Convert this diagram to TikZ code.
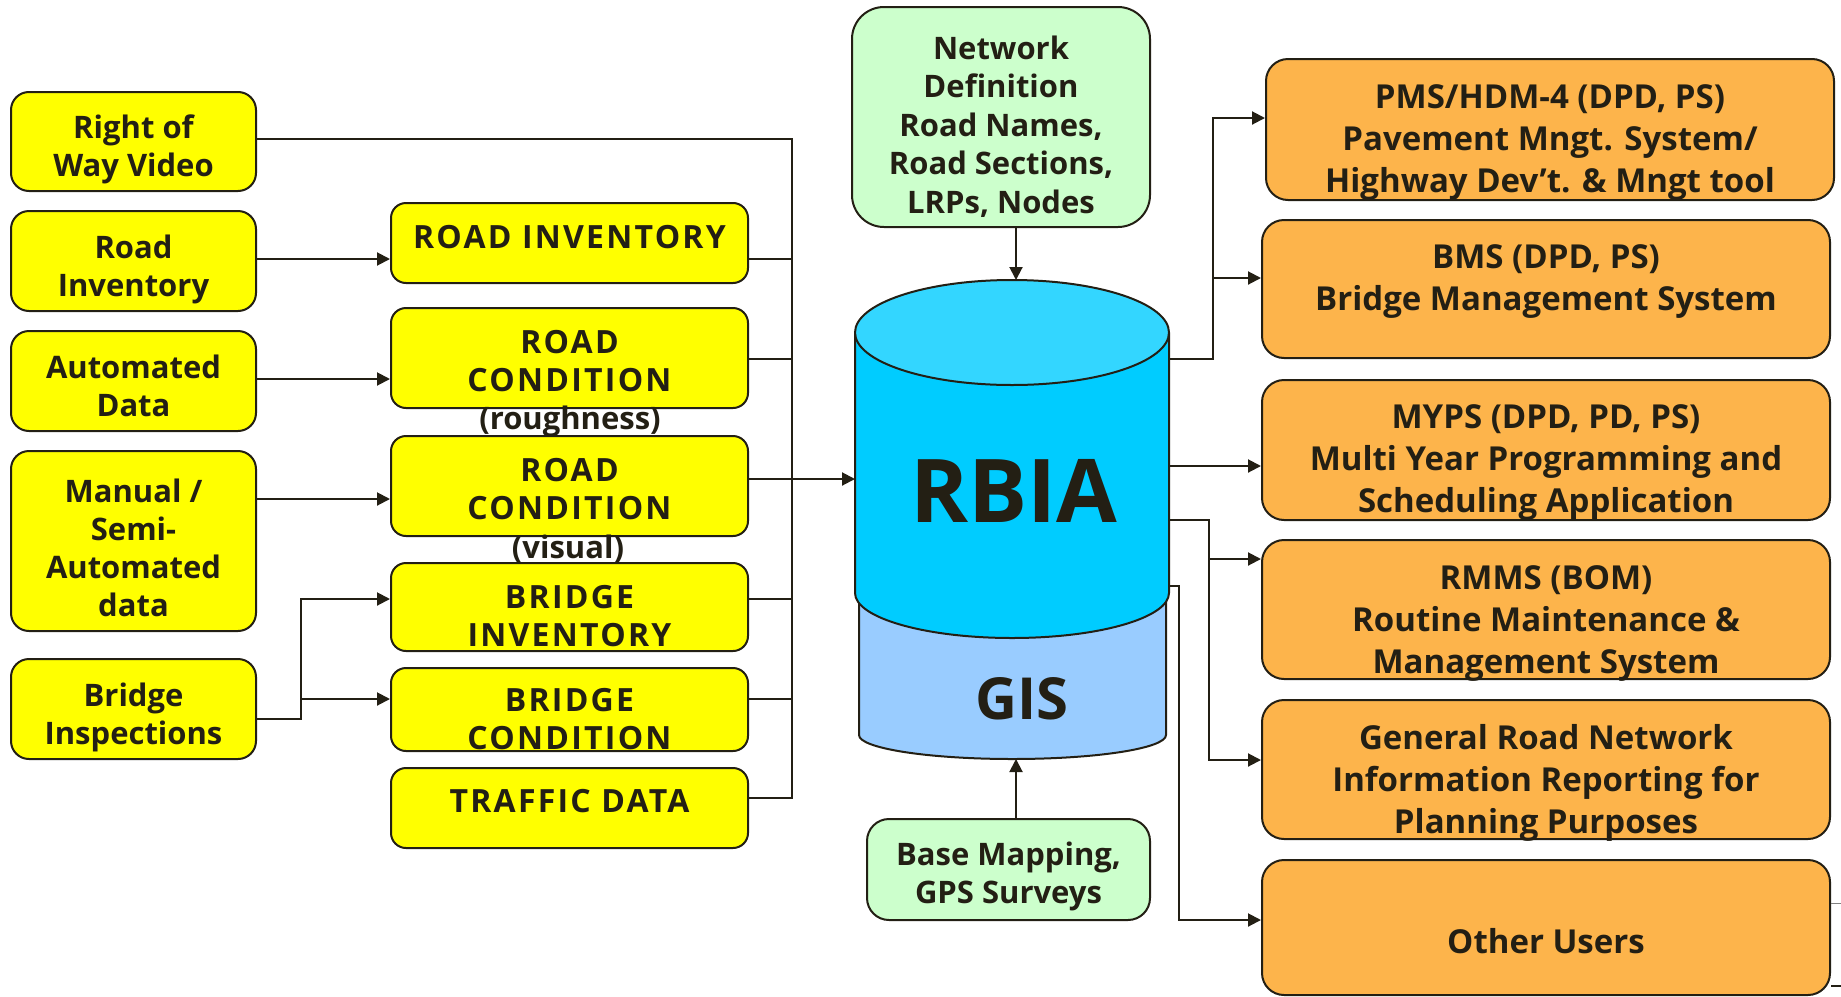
\documentclass[tikz,border=0pt]{standalone}
\usepackage{fontspec}
\setmainfont{Open Sans}
\usetikzlibrary{arrows.meta}
\definecolor{ink}{RGB}{35,31,20}
\definecolor{lemon}{RGB}{255,255,0}
\definecolor{peach}{RGB}{253,180,75}
\definecolor{mint}{RGB}{204,255,204}
\definecolor{sky}{RGB}{0,204,255}
\definecolor{skytop}{RGB}{51,214,255}
\definecolor{gisblue}{RGB}{153,204,255}
\tikzstyle{every node}=[text=ink, align=center, inner sep=2pt]
\tikzstyle{srcbox}=[draw=ink, line width=2pt, fill=lemon, rounded corners=18pt, minimum width=245pt]
\tikzstyle{srctext}=[font=\fontsize{31}{38}\selectfont\bfseries]
\tikzstyle{databox}=[draw=ink, line width=2pt, fill=lemon, rounded corners=15pt, minimum width=357pt]
\tikzstyle{datatext}=[font=\fontsize{32}{38}\selectfont\bfseries\addfontfeatures{LetterSpace=7}]
\tikzstyle{tag}=[font=\fontsize{31}{38}\selectfont\bfseries]
\tikzstyle{mapbox}=[draw=ink, line width=2pt, fill=mint, rounded corners=22pt]
\tikzstyle{maptext}=[font=\fontsize{31}{38.5}\selectfont\bfseries]
\tikzstyle{userbox}=[draw=ink, line width=2pt, fill=peach, rounded corners=22pt, minimum width=568pt]
\tikzstyle{usertext}=[font=\fontsize{33}{42}\selectfont\bfseries]
\tikzstyle{arr}=[-{Triangle[length=13pt,width=13pt]}]

\begin{document}
\begin{tikzpicture}[x=1pt, y=-1pt, line width=2pt, ink]
    \useasboundingbox (0,0) rectangle (1841,996);
% Field sources
    \node[srcbox, minimum height=99pt] (row) at (133.5,141.5) {};
    \node[srctext] (row-t) at (133.5,149) {Right of\\Way Video};
    \node[srcbox, minimum height=100pt] (rinvl) at (133.5,261) {};
    \node[srctext] (rinvl-t) at (133.5,269) {Road\\Inventory};
    \node[srcbox, minimum height=100pt] (auto) at (133.5,381) {};
    \node[srctext] (auto-t) at (133.5,386) {Automated\\Data};
    \node[srcbox, minimum height=180pt] (manual) at (133.5,541) {};
    \node[srctext] (manual-t) at (133.5,547.5) {Manual /\\Semi-\\Automated\\data};
    \node[srcbox, minimum height=100pt] (binsp) at (133.5,709) {};
    \node[srctext] (binsp-t) at (133.5,717) {Bridge\\Inspections};
% Data sets
    \node[databox, minimum height=80pt] (rinv) at (569.5,243) {};
    \node[datatext] (rinv-t) at (569.5,237) {ROAD INVENTORY};
    \node[databox, minimum height=100pt] (rcond) at (569.5,358) {};
    \node[datatext] (rcond-t) at (569.5,361.5) {ROAD\\CONDITION};
    \node[tag] (rough) at (570,421) {(roughness)};
    \node[databox, minimum height=100pt] (vcond) at (569.5,486) {};
    \node[datatext] (vcond-t) at (569.5,489.5) {ROAD\\CONDITION};
    \node[tag] (visual) at (568,549) {(visual)};
    \node[databox, minimum height=88pt] (binv) at (569.5,607) {};
    \node[datatext] (binv-t) at (569.5,616) {BRIDGE\\INVENTORY};
    \node[databox, minimum height=83pt] (bcond) at (569.5,709.5) {};
    \node[datatext] (bcond-t) at (569.5,719) {BRIDGE\\CONDITION};
    \node[databox, minimum height=80pt] (traffic) at (569.5,808) {};
    \node[datatext] (traffic-t) at (569.5,801) {TRAFFIC DATA};
% Network and base map
    \node[mapbox, minimum width=298pt, minimum height=220pt, rounded corners=32pt] (net) at (1001,117) {};
    \node[maptext] (net-t) at (1001,126.5) {Network\\Definition\\Road Names,\\Road Sections,\\LRPs, Nodes};
    \node[mapbox, minimum width=283pt, minimum height=101pt] (base) at (1008.5,869.5) {};
    \node[maptext] (base-t) at (1008.5,876.5) {Base Mapping,\\GPS Surveys};
% Database
    \filldraw[fill=gisblue] (859,560) -- (859,735) arc[start angle=180, end angle=360, x radius=153.5pt, y radius=24pt] -- (1166,560);
    \filldraw[fill=sky] (855,332.5) -- (855,593) arc[start angle=180, end angle=360, x radius=157pt, y radius=45pt] -- (1169,332.5);
    \filldraw[fill=skytop] (1012,332.5) ellipse [x radius=157pt, y radius=52.5pt];
    \node[font=\fontsize{88}{88}\selectfont\bfseries] (rbia) at (1014,491) {RBIA};
    \node[font=\fontsize{58}{58}\selectfont\bfseries] (gis) at (1022,699) {GIS};
    \coordinate (dbtop) at (1016,280);
    \coordinate (gisbot) at (1016,759);
    \coordinate (dbin) at (855,479);
    \coordinate (dbout1) at (1169,359);
    \coordinate (dbout2) at (1169,466);
    \coordinate (dbout3) at (1169,520);
    \coordinate (dbout4) at (1169,586);
% Users
    \node[userbox, minimum height=141pt] (pms) at (1550,129.5) {};
    \node[usertext] (pms-t) at (1550,143) {PMS/HDM-4 (DPD, PS)\\Pavement Mngt. System/\\Highway Dev't. \& Mngt tool};
    \node[userbox, minimum height=138pt] (bms) at (1546,289) {};
    \node[usertext] (bms-t) at (1546,282) {BMS (DPD, PS)\\Bridge Management System};
    \node[userbox, minimum height=140pt] (myps) at (1546,450) {};
    \node[usertext] (myps-t) at (1546,463) {MYPS (DPD, PD, PS)\\Multi Year Programming and\\Scheduling Application};
    \node[userbox, minimum height=139pt] (rmms) at (1546,609.5) {};
    \node[usertext] (rmms-t) at (1546,623) {RMMS (BOM)\\Routine Maintenance \&\\Management System};
    \node[userbox, minimum height=139pt] (gen) at (1546,769.5) {};
    \node[usertext] (gen-t) at (1546,783) {General Road Network\\Information Reporting for\\Planning Purposes};
    \node[userbox, minimum height=135pt] (other) at (1546,927.5) {};
    \node[usertext] (other-t) at (1546,941) {Other Users};
% Inputs
    \coordinate (busL) at (792,798);
    \coordinate (splitI) at (301,599);
    \draw[arr] (rinvl.east |- 0,259) -- (rinv.west |- 0,259);
    \draw[arr] (auto.east |- 0,379) -- (rcond.west |- 0,379);
    \draw[arr] (manual.east |- 0,499) -- (vcond.west |- 0,499);
    \draw[arr] (binsp.east |- 0,719) -| (splitI) -- (binv.west |- splitI);
    \draw[arr] (splitI |- 0,699) -- (bcond.west |- 0,699);
    \draw (row.east |- 0,139) -| (busL) -- (traffic.east |- busL);
    \draw (rinv.east |- 0,259) -- (busL |- 0,259);
    \draw (rcond.east |- 0,359) -- (busL |- 0,359);
    \draw (binv.east |- 0,599) -- (busL |- 0,599);
    \draw (bcond.east |- 0,699) -- (busL |- 0,699);
    \draw[arr] (vcond.east |- dbin) -- (dbin);
    \draw[arr] (net.south -| dbtop) -- (dbtop);
    \draw[arr] (base.north -| gisbot) -- (gisbot);
% Outputs
    \coordinate (splitA) at (1213,118);
    \coordinate (splitB) at (1209,760);
    \coordinate (splitC) at (1179,920);
    \draw[arr] (dbout1) -| (splitA) -- (pms.west |- splitA);
    \draw[arr] (splitA |- 0,278) -- (bms.west |- 0,278);
    \draw[arr] (dbout2) -- (myps.west |- dbout2);
    \draw[arr] (dbout3) -| (splitB) -- (gen.west |- splitB);
    \draw[arr] (splitB |- 0,559) -- (rmms.west |- 0,559);
    \draw[arr] (dbout4) -| (splitC) -- (other.west |- splitC);
    \draw[line width=1pt, gray] (other.east |- 0,903) -- (1841,903);
    \draw (other.east |- 0,986) -- (1841,986);
\end{tikzpicture}
\end{document}
